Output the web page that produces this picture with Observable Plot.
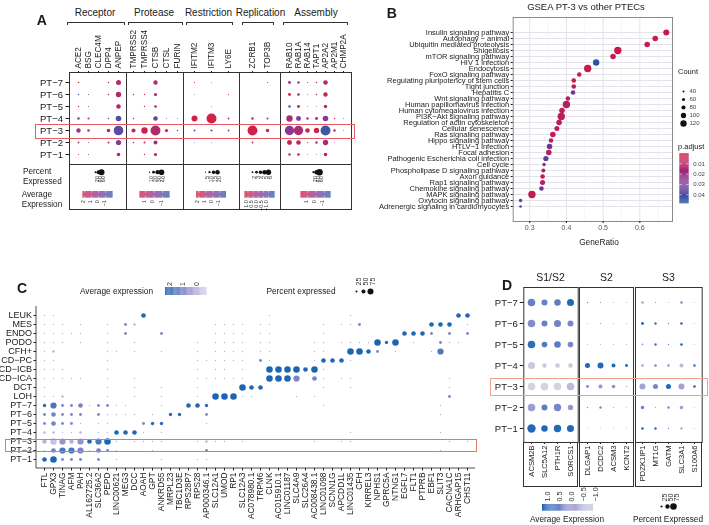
<!DOCTYPE html>
<html><head><meta charset="utf-8">
<script src="https://cdn.jsdelivr.net/npm/d3@7"></script>
<script src="https://cdn.jsdelivr.net/npm/@observablehq/plot@0.6"></script>
<style>
html,body{margin:0;padding:0;background:#fff;}
#root{position:relative;width:709px;height:525px;overflow:hidden;background:#fff;font-family:'Liberation Sans',Arial,Helvetica,sans-serif;color:#1a1a1a;}
#root svg{overflow:visible;will-change:transform;}
.t{position:absolute;white-space:nowrap;line-height:1;}
</style></head><body><div id="root"></div><script>
// ---------------- DATA ----------------
// Panel A (rows PT-7 .. PT-1)
const ptRows = ["PT−7","PT−6","PT−5","PT−4","PT−3","PT−2","PT−1"];
const aGroups = ["Receptor","Protease","Restriction","Replication","Assembly"];
const receptorGenes = ["ACE2","BSG","CLEC4M","DPP4","ANPEP"];
const receptorPct = [[16,0,0,14,50],[14,12,0,14,54],[14,10,0,0,46],[24,20,0,14,56],[44,26,0,36,96],[18,10,0,20,52],[12,10,0,0,36]];
const receptorExpr = [[1.59,0,0,1.16,1.03],[-1.62,0.09,0,1.16,1.37],[1.72,1.03,0,0,1.03],[0.09,1.03,0,0.3,-1.19],[0.52,0.95,0,1.29,-0.98],[0.86,0.3,0,1.89,0.09],[1.37,1.16,0,0,0.95]];
const receptorExprRange = [-2.05, 2.23];
const receptorPctTicks = [20,40,60];
const receptorExprTicks = [2,1,0,-1];
const proteaseGenes = ["TMPRSS2","TMPRSS4","CTSB","CTSL","FURIN"];
const proteasePct = [[0,0,31,0,0],[10,9,23,0,0],[0,9,19,0,0],[10,0,33,7,7],[29,46,71,23,11],[11,14,29,0,0],[0,9,23,0,0]];
const proteaseExpr = [[0,0,0.61,0,0],[1.49,1.14,0.53,0,0],[0,0.78,0.32,0,0],[1.14,0,-0.99,0.96,0.96],[0.78,1.39,0.68,1.49,1.32],[0.78,1.14,0.07,0,0],[0,0.78,1.49,0,0]];
const proteaseExprRange = [-1.88, 1.67];
const proteasePctTicks = [10,20,30,40];
const proteaseExprTicks = [1,0,-1];
const restrictionGenes = ["IFITM2","IFITM3","LY6E"];
const restrictionPct = [[5,4,0],[4,0,5],[0,4,0],[26,43,8],[8,9,8],[4,4,0],[0,0,0]];
const restrictionExpr = [[1.47,0.4,0],[-0.67,0,1.47],[0,0.4,0],[2.12,2.2,1.69],[-0.88,-0.24,-0.45],[0.4,0.19,0],[0,0,0]];
const restrictionExprRange = [-1.95, 2.33];
const restrictionPctTicks = [5,10,15,20];
const restrictionExprTicks = [2,1,0,-1];
const replicationGenes = ["ZCRB1","TOP3B"];
const replicationPct = [[0,1.3],[0,0],[0,0],[2.7,2.2],[11,3.8],[2,0],[0,0]];
const replicationExpr = [[0,0.85],[0,0],[0,0],[0.56,-0.18],[1.14,1.14],[1.14,0],[0,0]];
const replicationExprRange = [-1.64, 1.29];
const replicationPctTicks = [2,3,4,5,6];
const replicationExprTicks = [1.0,0.5,0.0,-0.5,-1.0];
const assemblyGenes = ["RAB10","RAB1A","RAB14","TAPT1","AP2A2","AP2M1","CHMP2A"];
const assemblyPct = [[27,22,11,13,42,0,0],[27,24,9,13,40,0,0],[22,27,9,9,31,0,0],[58,45,22,27,51,13,9],[85,85,42,49,91,22,9],[45,42,11,22,49,9,0],[22,24,9,9,33,0,0]];
const assemblyExpr = [[0.43,-0.72,0.9,1.26,0.79,0,0],[1.51,0,-0.36,0.9,1.26,0,0],[-1.26,1.51,0.9,-1.08,0.9,0,0],[0.65,-0.36,1.26,0.9,-0.18,1.62,0.9],[0,0.65,1.51,1.62,-1.51,1.51,1.26],[1.37,0.9,0.9,0.9,0.72,0.72,0],[0.18,1.51,0.9,-0.18,1.62,0,0]];
const assemblyExprRange = [-1.8, 1.8];
const assemblyPctTicks = [20,40,60];
const assemblyExprTicks = [1,0,-1];

// Panel B
const gseaPathways = ["Insulin signaling pathway","Autophagy − animal","Ubiquitin mediated proteolysis","Shigellosis","mTOR signaling pathway","HIV 1 infection","Endocytosis","FoxO signaling pathway","Regulating pluripotency of stem cells","Tight junction","Hepatitis C","Wnt signaling pathway","Human papillomavirus infection","Human cytomegalovirus infection","PI3K−Akt signaling pathway","Regulation of actin cytoskeleton","Cellular senescence","Ras signaling pathway","Hippo signaling pathway","HTLV−1 infection","Focal adhesion","Pathogenic Escherichia coli infection","Cell cycle","Phospholipase D signaling pathway","Axon guidance","Rap1 signaling pathway","Chemokine signaling pathway","MAPK signaling pathway","Oxytocin signaling pathway","Adrenergic signaling in cardiomyocytes"];
const gseaRatio = [0.672,0.642,0.620,0.540,0.527,0.481,0.458,0.435,0.420,0.420,0.418,0.404,0.400,0.388,0.386,0.380,0.374,0.363,0.358,0.354,0.352,0.344,0.339,0.337,0.335,0.335,0.332,0.306,0.275,0.275];
const gseaCount = [113,105,105,138,105,120,138,84,87,87,87,87,138,105,138,105,95,105,87,105,105,98,65,76,87,95,87,138,65,51];
const gseaPadj = [0.004,0.006,0.005,0.004,0.007,0.046,0.004,0.006,0.007,0.008,0.032,0.008,0.012,0.008,0.009,0.009,0.008,0.007,0.009,0.030,0.009,0.036,0.028,0.010,0.009,0.009,0.031,0.006,0.028,0.038];
const countTicks = [40,60,80,100,120];
const padjTicks = [0.01,0.02,0.03,0.04];
const padjRange = [0.0003, 0.0487];

// Panel C
const cRows = ["LEUK","MES","ENDO","PODO","CFH+","CD−PC","CD−ICB","CD−ICA","DCT","LOH","PT−7","PT−6","PT−5","PT−4","PT−3","PT−2","PT−1"];
const cGenes = ["FTL","GPX3","TINAG","AFM","PAH","AL162725.2","SLC36A2","PEPD","LINC00621","MEG3","DCC","AOAH","GPT","ANKRD55","MRPL23","TBC1D3E","RPS28P7","RPS28","AP000346.1","SLC12A1","UMOD","RP1","SLC12A3","AC078980.1","TRPM6","CLNK","AC015910.1","LINC01187","SLC4A9","SLC26A4","AC008438.1","LINC01098","SCNN1G","APCDD1L","LINC01435","CFH","KIRREL3","NPHS1","GPRC5A","NTNG1","EGFL7","FLT1","PTPRB","EBF1","SLIT3","CACNA1C","ARHGAP15","CHST11"];
// dot class per cell (one char per gene): [percent expressed, average expression]
const cDotClass = { t:[16,-0.3], q:[30,-0.3], p:[36,0.7], b:[42,1.9], B:[58,2.0], L:[82,2.1], l:[55,-0.3], V:[80,-0.6], P:[58,0.8], M:[78,0.7], m:[78,0.3], Q:[78,1.4] };
const cDots = [
 "tt......"+"...B...."+"........"+".t......"+"..t....."+"......BB",
 "ttt.t..t"+".pq....."+"...tttt."+"tt.....t"+".ttp...."+"...BBB.t",
 "ttttt..t"+".p...p.."+"...tttt."+"tt.....t"+"........"+"BBBp.p.p",
 "ttt.t..t"+"..t....."+".t.tttt."+"tt....tt"+".ttttLbL"+".t..ptt.",
 "tq.....t"+"t.t..t.."+".t.tttt."+"tt....tt"+"..LLBp.t"+"...tQ...",
 "tt.....t"+"........"+".tttttt."+"pt....tB"+"BBt....."+"........",
 "ttt....t"+"........"+".t.tt.t."+".LLLLBLt"+"........"+"........",
 "ttttt..t"+"..t....."+".tttttt."+".LLLM.Pt"+".tt....."+".....t..",
 "t......t"+"..t..t.."+".t....LB"+"B......t"+"..t....."+".....t..",
 "ttq....t"+"..t..t.."+".t.LLLtt"+"....t.t."+"........"+".....p..",
 "bQppPtpp"+"tt...t.."+"BBb....."+".......t"+"........"+"....t...",
 "pPppp.pt"+"ttt.t.bb"+"..p....."+"........"+"........"+"....t...",
 "pPppt.tt"+"...pbb.."+"..t....."+"........"+"........"+"........",
 "qqttq.tt"+"BBBt.t.."+"........"+"........"+"..t....."+"....t...",
 "lVmlmBQL"+"t.tttt.."+".tqtt.t."+"......t."+".tt....."+".....t.t",
 "tPQQMtPp"+"t...t..."+"..p....."+"........"+"........"+"....t...",
 "BLppp.p."+"t....t.."+".tt....."+"........"+"........"+"........"
];
const cExprRange = [-1.05, 2.15];
const cExprTicks = [2,1,0];
const cPctTicks = [25,50,75];

// Panel D
const dGroups = ["S1/S2","S2","S3"];
const s12Genes = ["ACSM2B","SLC5A12","PTH1R","SORCS1"];
const s12Pct = [[86,68,75,80],[86,68,80,68],[86,64,75,64],[80,50,52,50],[86,86,86,86],[86,68,84,61],[95,73,84,80]];
const s12Expr = [[0.45,0.45,0.5,1.0],[0.2,0.45,0.35,0.3],[0.9,0.6,0.55,0.3],[-0.85,-0.85,-0.85,-0.8],[-1.0,-1.0,-1.0,-0.6],[-0.1,0.5,0.3,0.0],[1.0,1.0,1.0,1.0]];
const s2Genes = ["DLGAP1","DCDC2","ACSM3","KCNT2"];
const s2Pct = [[16,14,11,11],[11,14,11,11],[11,11,11,11],[57,68,45,34],[34,45,41,18],[16,27,14,11],[11,11,11,11]];
const s2Expr = [[0.3,0.3,0.3,0.3],[0.2,0.2,0.2,0.2],[0.2,0.2,0.2,0.2],[1.0,1.0,1.0,1.0],[0.2,0,0.1,-0.5],[0.1,0.3,0,-0.3],[-0.3,-0.3,-0.3,-0.3]];
const s3Genes = ["PDZK1IP1","MT1G","GATM","SLC3A1","S100A6"];
const s3Pct = [[30,14,11,27,11],[34,27,16,30,11],[20,27,16,30,11],[34,30,27,45,27],[68,57,57,68,30],[39,14,27,39,11],[30,27,14,23,11]];
const s3Expr = [[-0.2,0.2,0.2,0.3,0],[1.0,0.9,0.3,0.9,0],[0,0.8,0.3,1.0,0],[-0.5,0.2,0.1,-0.6,0.9],[-0.2,0.3,1.0,-0.2,1.0],[0.4,-0.2,0.3,-0.1,-0.2],[1.0,1.0,0.3,0.3,0]];
const dExprRange = [-1.01, 1.1];
const dExprTicks = [1.0,0.5,0.0,-0.5,-1.0];
const dPctTicks = [25,50,75];

// ---------------- HELPERS ----------------
const FONT = "'Liberation Sans', Arial, Helvetica, sans-serif";
const root = document.getElementById("root");
const baseStyle = {fontFamily: FONT, fontSize: "9px", background: "transparent", overflow: "visible", color: "#1a1a1a"};
function place(node, left, top) {
  node.style.position = "absolute"; node.style.left = left + "px"; node.style.top = top + "px";
  root.appendChild(node); return node;
}
function txt(s, x, y, o = {}) {
  const d = document.createElement("div"); d.className = "t"; d.textContent = s;
  d.style.fontSize = (o.size || 9) + "px"; if (o.bold) d.style.fontWeight = "bold";
  d.style.color = o.color || "#1a1a1a";
  const ax = o.anchor === "start" ? "0" : o.anchor === "end" ? "-100%" : "-50%";
  d.style.transform = `translate(${ax},-50%)`;
  return place(d, x, y);
}
function box(x, y, w, h, color, extra) {
  const d = document.createElement("div");
  Object.assign(d.style, {width: w + "px", height: h + "px", boxSizing: "border-box", border: `1px solid ${color}`});
  if (extra) Object.assign(d.style, extra);
  return place(d, x, y);
}
function gradSteps(lo, hi, n = 48) {
  return d3.range(n).map(i => { const a = lo + (hi - lo) * i / n, b = lo + (hi - lo) * (i + 1) / n; return {a, b, m: (a + b) / 2}; });
}
function matrixCells(genes, rows, pct, expr) {
  const out = [];
  rows.forEach((row, i) => genes.forEach((gene, j) => { if (pct[i][j] > 0) out.push({row, gene, pct: pct[i][j], expr: expr[i][j]}); }));
  return out;
}

// ---------------- PANEL A ----------------
const aInterp = d3.piecewise(d3.interpolateRgb, ["#2E5DAB", "#8E3594", "#D81F3F"]);
const aFacets = [
  {genes: receptorGenes, pct: receptorPct, expr: receptorExpr, range: receptorExprRange, pctTicks: receptorPctTicks, exprTicks: receptorExprTicks, fmt: d3.format("d"), left: 69, right: 126, pad: 0.65, rDom: 100, rMax: 5, head: 95, br: [67, 125]},
  {genes: proteaseGenes, pct: proteasePct, expr: proteaseExpr, range: proteaseExprRange, pctTicks: proteasePctTicks, exprTicks: proteaseExprTicks, fmt: d3.format("d"), left: 126, right: 183, pad: 0.55, rDom: 75, rMax: 5.25, head: 154, br: [128, 183]},
  {genes: restrictionGenes, pct: restrictionPct, expr: restrictionExpr, range: restrictionExprRange, pctTicks: restrictionPctTicks, exprTicks: restrictionExprTicks, fmt: d3.format("d"), left: 183, right: 239, pad: 0.59, rDom: 45, rMax: 5.2, head: 208.5, br: [186, 233]},
  {genes: replicationGenes, pct: replicationPct, expr: replicationExpr, range: replicationExprRange, pctTicks: replicationPctTicks, exprTicks: replicationExprTicks, fmt: d3.format(".1f"), left: 239, right: 280, pad: 0.86, rDom: 12, rMax: 5.4, head: 260.5, br: [242, 274]},
  {genes: assemblyGenes, pct: assemblyPct, expr: assemblyExpr, range: assemblyExprRange, pctTicks: assemblyPctTicks, exprTicks: assemblyExprTicks, fmt: d3.format("d"), left: 280, right: 351, pad: 0.7, rDom: 95, rMax: 5.2, head: 316, br: [283, 348]}
];
aFacets.forEach((f, k) => {
  const first = k === 0;
  const mL = first ? 50 : 1, mR = 1, w = f.right - f.left;
  const colorOpt = {type: "linear", domain: f.range, interpolate: aInterp, clamp: true};
  const rOpt = {type: "linear", domain: [0, f.rDom], range: [0, f.rMax]};
  const cells = matrixCells(f.genes, ptRows, f.pct, f.expr);
  const marks = [
    Plot.frame({stroke: "#333"}),
    Plot.axisX({anchor: "top", ticks: f.genes, tickRotate: -90, tickSize: 2, tickPadding: 2, fontSize: 8.2, label: null}),
    Plot.dot(cells, {x: "gene", y: "row", r: "pct", fill: "expr"})
  ];
  if (first) marks.push(Plot.axisY({anchor: "left", ticks: ptRows, tickSize: 3.5, tickPadding: 3, fontSize: 9.5, label: null}));
  const svg = Plot.plot({
    width: w + mL + mR, height: 47 + 92 + 1, marginTop: 47, marginBottom: 1, marginLeft: mL, marginRight: mR,
    style: baseStyle,
    x: {type: "point", domain: f.genes, padding: f.pad},
    y: {type: "point", domain: ptRows, padding: 0.73, axis: first ? undefined : null},
    r: rOpt, color: colorOpt,
    marks
  });
  place(svg, f.left - mL, 25);
  txt(aGroups[k], f.head, 13, {size: 10});
  box(f.br[0], 21.5, f.br[1] - f.br[0], 3.5, "#333", {borderBottom: "none"});
  box(f.left - 0.5, 164, w + 1, 45.5, "#333");
  const n = f.pctTicks.length, sp = 5.8;
  const sz = Plot.plot({
    width: w, height: 22, marginTop: 0, marginBottom: 0, marginLeft: 0, marginRight: 0, style: baseStyle,
    x: {type: "point", domain: f.pctTicks, range: [w / 2 - sp * (n - 1) / 2, w / 2 + sp * (n - 1) / 2], axis: null},
    r: rOpt,
    marks: [
      Plot.dot(f.pctTicks, {x: d => d, r: d => d, fill: "#111", frameAnchor: "top", dy: 7.7}),
      Plot.text(f.pctTicks, {x: d => d, text: d => String(d), frameAnchor: "top", dy: 11.5, rotate: -90, textAnchor: "end", fontSize: 5.5, fill: "#333"})
    ]
  });
  place(sz, f.left, 164);
  const bw = 30;
  const cl = Plot.plot({
    width: w, height: 6.6 + 12, marginTop: 0, marginBottom: 12, marginLeft: 0, marginRight: 0, style: baseStyle,
    x: {domain: [f.range[1], f.range[0]], range: [w / 2 - bw / 2, w / 2 + bw / 2], axis: null},
    color: colorOpt,
    marks: [
      Plot.barX(gradSteps(f.range[0], f.range[1]), {x1: "a", x2: "b", fill: "m"}),
      Plot.tickX(f.exprTicks, {x: d => d, stroke: "white", strokeWidth: 0.6, insetBottom: 5}),
      Plot.tickX(f.exprTicks, {x: d => d, stroke: "white", strokeWidth: 0.6, insetTop: 5}),
      Plot.text(f.exprTicks, {x: d => d, text: d => f.fmt(d), frameAnchor: "bottom", dy: 2, rotate: -90, textAnchor: "end", fontSize: 5.5, fill: "#333"})
    ]
  });
  place(cl, f.left, 190.7);
});
txt("A", 41.7, 20, {size: 14, bold: true});
txt("Percent", 23, 171.7, {size: 8.2, anchor: "start"});
txt("Expressed", 23, 181.7, {size: 8.2, anchor: "start"});
txt("Average", 21.7, 195, {size: 8.2, anchor: "start"});
txt("Expression", 21.7, 204.5, {size: 8.2, anchor: "start"});
box(35, 124, 320, 14.5, "#E85A66");

// ---------------- PANEL B ----------------
const bRowsData = gseaPathways.map((p, i) => ({path: p, ratio: gseaRatio[i], count: gseaCount[i], padj: gseaPadj[i]}));
const bColor = {type: "linear", domain: padjRange, interpolate: d3.piecewise(d3.interpolateRgb, ["#D6173D", "#8A2A8C", "#2459A8"]), clamp: true};
const bR = {type: "linear", domain: [40, 120], range: [1, 3.2]};
const bPlot = Plot.plot({
  width: 364, height: 247, marginLeft: 167.7, marginRight: 37, marginTop: 7, marginBottom: 36,
  style: baseStyle,
  x: {domain: [0.255, 0.689]},
  y: {type: "point", domain: gseaPathways, padding: 0.48},
  r: bR, color: bColor,
  marks: [
    Plot.gridX({ticks: [0.35, 0.45, 0.55, 0.65], stroke: "#EFEFF3", strokeOpacity: 1, strokeWidth: 0.6}),
    Plot.gridX({ticks: [0.3, 0.4, 0.5, 0.6], stroke: "#E3E3EA", strokeOpacity: 1, strokeWidth: 1}),
    Plot.gridY({ticks: gseaPathways, stroke: "#E3E3EA", strokeOpacity: 1, strokeWidth: 1}),
    Plot.frame({stroke: "#8a8a8a"}),
    Plot.axisY({ticks: gseaPathways, tickSize: 2, tickPadding: 2, fontSize: 7.5, label: null, fill: "#222"}),
    Plot.axisX({ticks: [0.3, 0.4, 0.5, 0.6], tickSize: 2, tickPadding: 2, fontSize: 7, label: null, tickFormat: d3.format(".1f"), fill: "#555"}),
    Plot.dot(bRowsData, {x: "ratio", y: "path", r: "count", fill: "padj"})
  ]
});
place(bPlot, 345, 10);
txt("B", 391.7, 13, {size: 14, bold: true});
txt("GSEA PT-3 vs other PTECs", 586, 6.5, {size: 9.5});
txt("GeneRatio", 599, 242, {size: 8.3});
txt("Count", 678, 72, {size: 7.5, anchor: "start"});
const cntLeg = Plot.plot({
  width: 34, height: 50, marginTop: 0, marginBottom: 0, marginLeft: 0, marginRight: 0, style: baseStyle,
  y: {type: "point", domain: countTicks, range: [5, 45], axis: null},
  r: bR,
  marks: [
    Plot.dot(countTicks, {y: d => d, r: d => d, fill: "#111", frameAnchor: "left", dx: 8}),
    Plot.text(countTicks, {y: d => d, text: d => String(d), frameAnchor: "left", dx: 14, textAnchor: "start", fontSize: 6, fill: "#444"})
  ]
});
place(cntLeg, 675, 82);
txt("p.adjust", 678, 146.7, {size: 7.5, anchor: "start"});
const pLeg = Plot.plot({
  width: 39, height: 60, marginLeft: 9.3, marginRight: 20.3, marginTop: 0, marginBottom: 0, style: baseStyle,
  y: {domain: padjRange, range: [3.3, 53.3], axis: null},
  color: bColor,
  marks: [
    Plot.barY(gradSteps(padjRange[0], padjRange[1]), {y1: "a", y2: "b", fill: "m"}),
    Plot.tickY(padjTicks, {y: d => d, stroke: "white", strokeWidth: 0.6, insetRight: 7}),
    Plot.tickY(padjTicks, {y: d => d, stroke: "white", strokeWidth: 0.6, insetLeft: 7}),
    Plot.text(padjTicks, {y: d => d, text: d => d3.format(".2f")(d), frameAnchor: "right", dx: 4, textAnchor: "start", fontSize: 6, fill: "#444"})
  ]
});
place(pLeg, 670, 150);

// ---------------- PANEL C ----------------
const cInterp = d3.piecewise(d3.interpolateRgb, ["#DCDAEF", "#8A86C6", "#1764B4"]);
const cColor = {type: "linear", domain: cExprRange, interpolate: cInterp, clamp: true};
const cR = {type: "linear", domain: [0, 100], range: [0, 4]};
const cCells = [];
cRows.forEach((row, i) => {
  const s = cDots[i];
  cGenes.forEach((gene, j) => { const c = s[j]; if (c && cDotClass[c]) cCells.push({row, gene, pct: cDotClass[c][0], expr: cDotClass[c][1]}); });
});
const cPlot = Plot.plot({
  width: 480, height: 225, marginLeft: 36, marginRight: 5, marginTop: 6, marginBottom: 57,
  style: baseStyle,
  x: {type: "point", domain: cGenes, padding: 0.6},
  y: {type: "point", domain: cRows, padding: 0.52},
  r: cR, color: cColor,
  marks: [
    Plot.axisX({ticks: cGenes, tickRotate: -90, tickSize: 2.5, tickPadding: 1.5, fontSize: 8.4, label: null}),
    Plot.axisY({ticks: cRows, tickSize: 2.5, tickPadding: 2, fontSize: 9, label: null}),
    Plot.dot(cCells, {x: "gene", y: "row", r: "pct", fill: "expr"})
  ]
});
{
  const s = d3.select(cPlot);
  s.append("line").attr("x1", 36).attr("x2", 36).attr("y1", 6).attr("y2", 168).attr("stroke", "#222").attr("stroke-width", 0.8);
  s.append("line").attr("x1", 36).attr("x2", 475).attr("y1", 168).attr("y2", 168).attr("stroke", "#222").attr("stroke-width", 0.8);
}
place(cPlot, 0, 300);
txt("C", 22, 288, {size: 14, bold: true});
txt("Average expression", 116.5, 290.5, {size: 8.3});
const cBar = Plot.plot({
  width: 42, height: 17, marginTop: 9, marginBottom: 0, marginLeft: 0, marginRight: 0, style: baseStyle,
  x: {domain: [cExprRange[1], cExprRange[0]], range: [0, 41.7], axis: null},
  color: cColor,
  marks: [
    Plot.barX(gradSteps(cExprRange[0], cExprRange[1]), {x1: "a", x2: "b", fill: "m"}),
    Plot.text(cExprTicks, {x: d => d, text: d => String(d), frameAnchor: "top", dy: -1.5, rotate: -90, textAnchor: "start", fontSize: 7, fill: "#333"})
  ]
});
place(cBar, 165, 278);
txt("Percent expressed", 301, 291, {size: 8.3});
const cSize = Plot.plot({
  width: 45, height: 30, marginTop: 0, marginBottom: 0, marginLeft: 0, marginRight: 0, style: baseStyle,
  x: {type: "point", domain: cPctTicks, range: [11.7, 34.3], axis: null},
  r: cR,
  marks: [
    Plot.dot(cPctTicks, {x: d => d, r: d => d, fill: "#111", frameAnchor: "top", dy: 23}),
    Plot.text(cPctTicks, {x: d => d, text: d => String(d), frameAnchor: "top", dy: 17, rotate: -90, textAnchor: "start", fontSize: 7, fill: "#333"})
  ]
});
place(cSize, 340, 268);
box(5, 439, 472, 12.5, "#E8775F");

// ---------------- PANEL D ----------------
const dColor = {type: "linear", domain: dExprRange, interpolate: d3.piecewise(d3.interpolateRgb, ["#D3D3E0", "#9593CD", "#1763B3"]), clamp: true};
const dR = {type: "linear", domain: [0, 100], range: [0, 4.4]};
const dFacets = [
  {genes: s12Genes, pct: s12Pct, expr: s12Expr, left: 523.3, right: 577.7, pad: 0.545, head: 550.5},
  {genes: s2Genes, pct: s2Pct, expr: s2Expr, left: 579.3, right: 633.3, pad: 0.545, head: 606.3},
  {genes: s3Genes, pct: s3Pct, expr: s3Expr, left: 635, right: 701.7, pad: 0.52, head: 668.3}
];
dFacets.forEach((f, k) => {
  const first = k === 0;
  const mL = first ? 43.3 : 1, mR = 1, w = f.right - f.left;
  const cells = matrixCells(f.genes, ptRows, f.pct, f.expr);
  const marks = [
    Plot.frame({stroke: "#333"}),
    Plot.axisX({anchor: "bottom", ticks: f.genes, tickRotate: -90, tickSize: 2, tickPadding: 1, fontSize: 7.6, label: null}),
    Plot.dot(cells, {x: "gene", y: "row", r: "pct", fill: "expr"})
  ];
  if (first) marks.push(Plot.axisY({anchor: "left", ticks: ptRows, tickSize: 3.5, tickPadding: 2.5, fontSize: 9.5, label: null}));
  const svg = Plot.plot({
    width: w + mL + mR, height: 1 + 155 + 46, marginTop: 1, marginBottom: 46, marginLeft: mL, marginRight: mR,
    style: baseStyle,
    x: {type: "point", domain: f.genes, padding: f.pad},
    y: {type: "point", domain: ptRows, padding: 0.6, axis: first ? undefined : null},
    r: dR, color: dColor,
    marks
  });
  place(svg, f.left - mL, 286);
  box(f.left - 0.5, 442, w + 1, 44.5, "#333");
  txt(dGroups[k], f.head, 277, {size: 10.5});
});
txt("D", 507, 285, {size: 14, bold: true});
const dBar = Plot.plot({
  width: 52, height: 22.7, marginTop: 16, marginBottom: 0, marginLeft: 0, marginRight: 0, style: baseStyle,
  x: {domain: [dExprRange[1], dExprRange[0]], range: [0, 51], axis: null},
  color: dColor,
  marks: [
    Plot.barX(gradSteps(dExprRange[0], dExprRange[1]), {x1: "a", x2: "b", fill: "m"}),
    Plot.text(dExprTicks, {x: d => d, text: d => d3.format(".1f")(d), frameAnchor: "top", dy: -3, rotate: -90, textAnchor: "start", fontSize: 7.3, fill: "#333"})
  ]
});
place(dBar, 541.7, 488);
txt("Average Expression", 567, 519.3, {size: 8.3});
const dSize = Plot.plot({
  width: 40, height: 26, marginTop: 0, marginBottom: 0, marginLeft: 0, marginRight: 0, style: baseStyle,
  x: {type: "point", domain: dPctTicks, range: [11.7, 31.7], axis: null},
  r: dR,
  marks: [
    Plot.dot(dPctTicks, {x: d => d, r: d => d, fill: "#111", frameAnchor: "top", dy: 20}),
    Plot.text(dPctTicks, {x: d => d, text: d => String(d), frameAnchor: "top", dy: 15, rotate: -90, textAnchor: "start", fontSize: 7.3, fill: "#333"})
  ]
});
place(dSize, 645, 486);
txt("Percent Expressed", 668, 519.3, {size: 8.3});
box(490, 378, 218, 17.5, "#EF9F8E");
</script></body></html>
